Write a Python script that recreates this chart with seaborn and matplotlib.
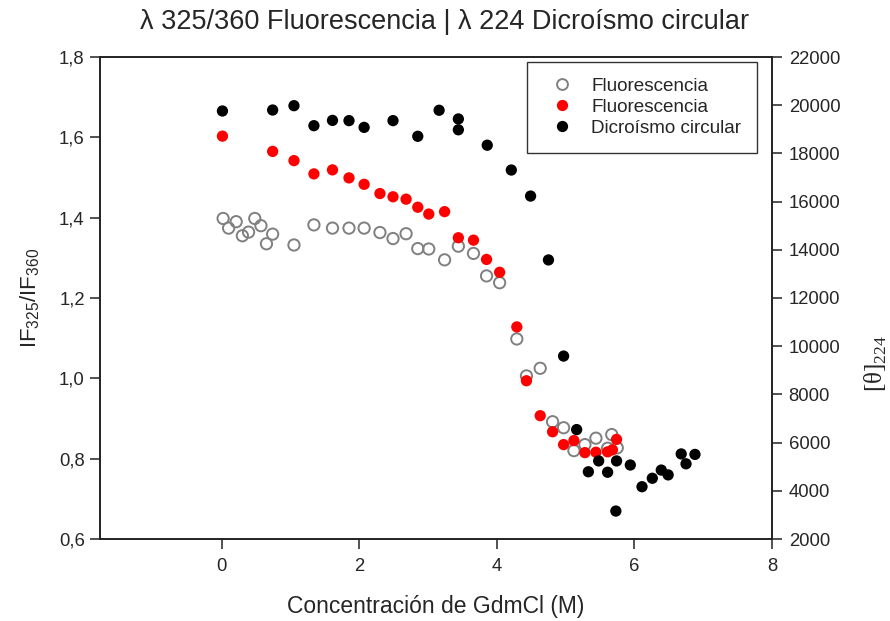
import matplotlib
matplotlib.use("Agg")
import matplotlib.pyplot as plt
import numpy as np
import pandas as pd
import seaborn as sns
from matplotlib.lines import Line2D
from matplotlib.ticker import FuncFormatter, MultipleLocator

# Fluorescence ratio IF325/IF360 (open grey series)
gdm_open = [0.02, 0.10, 0.21, 0.30, 0.39, 0.48, 0.57, 0.65, 0.74, 1.05,
            1.34, 1.61, 1.85, 2.07, 2.30, 2.49, 2.68, 2.85, 3.01, 3.24,
            3.44, 3.66, 3.85, 4.04, 4.29, 4.43, 4.63, 4.81, 4.97, 5.12,
            5.28, 5.44, 5.61, 5.67, 5.75]
ratio_open = [1.398, 1.374, 1.390, 1.355, 1.364, 1.398, 1.380, 1.335, 1.359, 1.332,
              1.382, 1.374, 1.374, 1.374, 1.363, 1.348, 1.360, 1.323, 1.322, 1.295,
              1.329, 1.311, 1.255, 1.238, 1.098, 1.006, 1.025, 0.892, 0.877, 0.820,
              0.835, 0.851, 0.826, 0.860, 0.827]

# Fluorescence ratio IF325/IF360 (filled red series)
gdm_red = [0.01, 0.74, 1.05, 1.34, 1.61, 1.85, 2.07, 2.30, 2.49, 2.68,
           2.85, 3.01, 3.24, 3.44, 3.66, 3.85, 4.04, 4.29, 4.43, 4.63,
           4.81, 4.97, 5.12, 5.28, 5.44, 5.61, 5.68, 5.74]
ratio_red = [1.603, 1.565, 1.542, 1.509, 1.519, 1.499, 1.483, 1.460, 1.452, 1.446,
             1.426, 1.409, 1.415, 1.350, 1.344, 1.296, 1.264, 1.128, 0.994, 0.907,
             0.867, 0.835, 0.845, 0.815, 0.816, 0.817, 0.822, 0.848]

# Circular dichroism [theta]224
gdm_cd = [0.01, 0.74, 1.05, 1.34, 1.61, 1.85, 2.07, 2.49, 2.85, 3.16,
          3.44, 3.44, 3.86, 4.21, 4.49, 4.75, 4.97, 5.16, 5.33, 5.48,
          5.61, 5.73, 5.74, 5.94, 6.11, 6.26, 6.39, 6.49, 6.68, 6.75, 6.88]
theta_cd = [19760, 19800, 19980, 19150, 19370, 19360, 19080, 19360, 18710, 19790,
            19430, 18980, 18340, 17310, 16230, 13580, 9590, 6540, 4790, 5240,
            4770, 3160, 5240, 5070, 4170, 4520, 4860, 4660, 5530, 5120, 5510]

legend_labels = ["Fluorescencia", "Fluorescencia", "Dicroísmo circular"]

sns.set_style("white")
plt.rcParams["font.family"] = ["Liberation Sans", "DejaVu Sans"]

df_open = pd.DataFrame({"x": gdm_open, "y": ratio_open})
df_red = pd.DataFrame({"x": gdm_red, "y": ratio_red})
df_cd = pd.DataFrame({"x": gdm_cd, "y": theta_cd})

fig = plt.figure(figsize=(8.9, 6.21), dpi=100)
ax = fig.add_axes([100 / 890, (621 - 539) / 621, (772 - 100) / 890, (539 - 57) / 621])
ax2 = ax.twinx()

msize = 66
sns.scatterplot(data=df_open, x="x", y="y", ax=ax, s=msize, marker="o",
                facecolor="none", edgecolor="#808080", linewidth=1.4, zorder=3)
sns.scatterplot(data=df_red, x="x", y="y", ax=ax, s=msize, marker="o",
                color="#ff0000", edgecolor="none", linewidth=0, zorder=4)
sns.scatterplot(data=df_cd, x="x", y="y", ax=ax2, s=msize, marker="o",
                color="black", edgecolor="none", linewidth=0, zorder=4)

ax.set_xlim(-1.77, 8)
ax.set_ylim(0.6, 1.8)
ax2.set_ylim(2000, 22000)
ax.set_xticks([0, 2, 4, 6, 8])
ax.yaxis.set_major_locator(MultipleLocator(0.2))
ax2.yaxis.set_major_locator(MultipleLocator(2000))
ax.yaxis.set_major_formatter(FuncFormatter(lambda v, p: f"{v:.1f}".replace(".", ",")))

for a in (ax, ax2):
    for sp in a.spines.values():
        sp.set_color("#222222")
        sp.set_linewidth(1.2)
ax.tick_params(axis="both", direction="out", length=7, width=1.1, color="#222222",
               labelsize=13.3, left=True, bottom=True)
ax.tick_params(axis="x", pad=7)
ax.tick_params(axis="y", pad=4)
ax2.tick_params(axis="y", direction="out", length=7, width=1.1, color="#222222",
                labelsize=13.3, right=True, pad=5)

ax.set_xlabel("Concentración de GdmCl (M)", fontsize=16.5, labelpad=14)
ax.set_ylabel(r"IF$_\mathregular{325}$/IF$_\mathregular{360}$", fontsize=16, labelpad=12)
ax2.set_ylabel(r"[θ]$_\mathregular{224}$", fontsize=18,
               family=["Liberation Serif", "DejaVu Serif"])
ax2.yaxis.set_label_coords(1.135, 0.365)
ax.set_title("λ 325/360 Fluorescencia | λ 224 Dicroísmo circular", fontsize=19.5,
             pad=20, x=0.513)

handles = [
    Line2D([], [], linestyle="none", marker="o", markersize=7.8, markerfacecolor="none",
           markeredgecolor="#808080", markeredgewidth=1.4),
    Line2D([], [], linestyle="none", marker="o", markersize=8.1, markerfacecolor="#ff0000",
           markeredgecolor="none"),
    Line2D([], [], linestyle="none", marker="o", markersize=8.1, markerfacecolor="black",
           markeredgecolor="none"),
]
leg = ax2.legend(handles, legend_labels, loc="upper right", bbox_to_anchor=(0.978, 0.99),
                 fontsize=13.6, frameon=True, fancybox=False, borderpad=0.85,
                 labelspacing=0.2, handletextpad=0.55, handlelength=2.0, borderaxespad=0)
leg.get_frame().set_edgecolor("black")
leg.get_frame().set_linewidth(1.0)

fig.savefig("out.png", dpi=100)
